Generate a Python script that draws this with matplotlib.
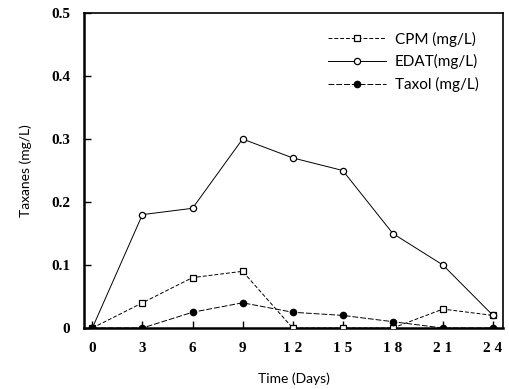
import matplotlib.pyplot as plt

# Taxane concentrations over time
days = [0, 3, 6, 9, 12, 15, 18, 21, 24]
cpm = [0, 0.04, 0.08, 0.09, 0, 0, 0, 0.03, 0.02]
edat = [0, 0.18, 0.19, 0.30, 0.27, 0.25, 0.15, 0.10, 0.02]
taxol = [0, 0, 0.025, 0.04, 0.025, 0.02, 0.01, 0, 0]

x_ticks = [0, 3, 6, 9, 12, 15, 18, 21, 24]
x_labels = ['0', '3', '6', '9', '1 2', '1 5', '1 8', '2 1', '2 4']
y_ticks = [0, 0.1, 0.2, 0.3, 0.4, 0.5]
y_labels = ['0', '0.1', '0.2', '0.3', '0.4', '0.5']

fig = plt.figure(figsize=(5.09, 3.89), dpi=100)
ax = fig.add_axes([84 / 509, 1 - 328 / 389, 419 / 509, 315 / 389])

ax.plot(days, cpm, color='black', lw=0.7, ls=(0, (4, 2)), marker='s', ms=4.5,
        mfc='white', mec='black', mew=0.9, label='CPM (mg/L)', zorder=3)
ax.plot(days, edat, color='black', lw=0.7, marker='o', ms=4.5,
        mfc='white', mec='black', mew=0.9, label='EDAT(mg/L)', zorder=3)
ax.plot(days, taxol, color='black', lw=0.7, ls=(0, (6, 2)), marker='o', ms=4.5,
        mfc='black', mec='black', label='Taxol (mg/L)', zorder=4)

ax.set_xlim(-0.5, 24.6)
ax.set_ylim(0, 0.5)
ax.set_xticks(x_ticks)
ax.set_xticklabels(x_labels, fontfamily='Liberation Serif', fontweight='bold', fontsize=11)
ax.set_yticks(y_ticks)
ax.set_yticklabels(y_labels, fontfamily='Liberation Serif', fontweight='bold', fontsize=11)
ax.tick_params(direction='in', length=5, width=1, pad=10)

for s in ax.spines.values():
    s.set_linewidth(1.2)
ax.spines['bottom'].set_linewidth(1.8)
ax.spines['left'].set_linewidth(1.8)

ax.set_xlabel('Time (Days)', fontfamily='Lato', fontsize=10, labelpad=13)
ax.set_ylabel('Taxanes (mg/L)', fontfamily='Lato', fontsize=10, labelpad=14)

ax.legend(loc='upper right', frameon=False, handlelength=3.8,
          bbox_to_anchor=(0.975, 0.985), labelspacing=0.5, handletextpad=0.6,
          prop={'family': 'Lato', 'size': 11})

fig.savefig('out.png', dpi=100, facecolor='white')
